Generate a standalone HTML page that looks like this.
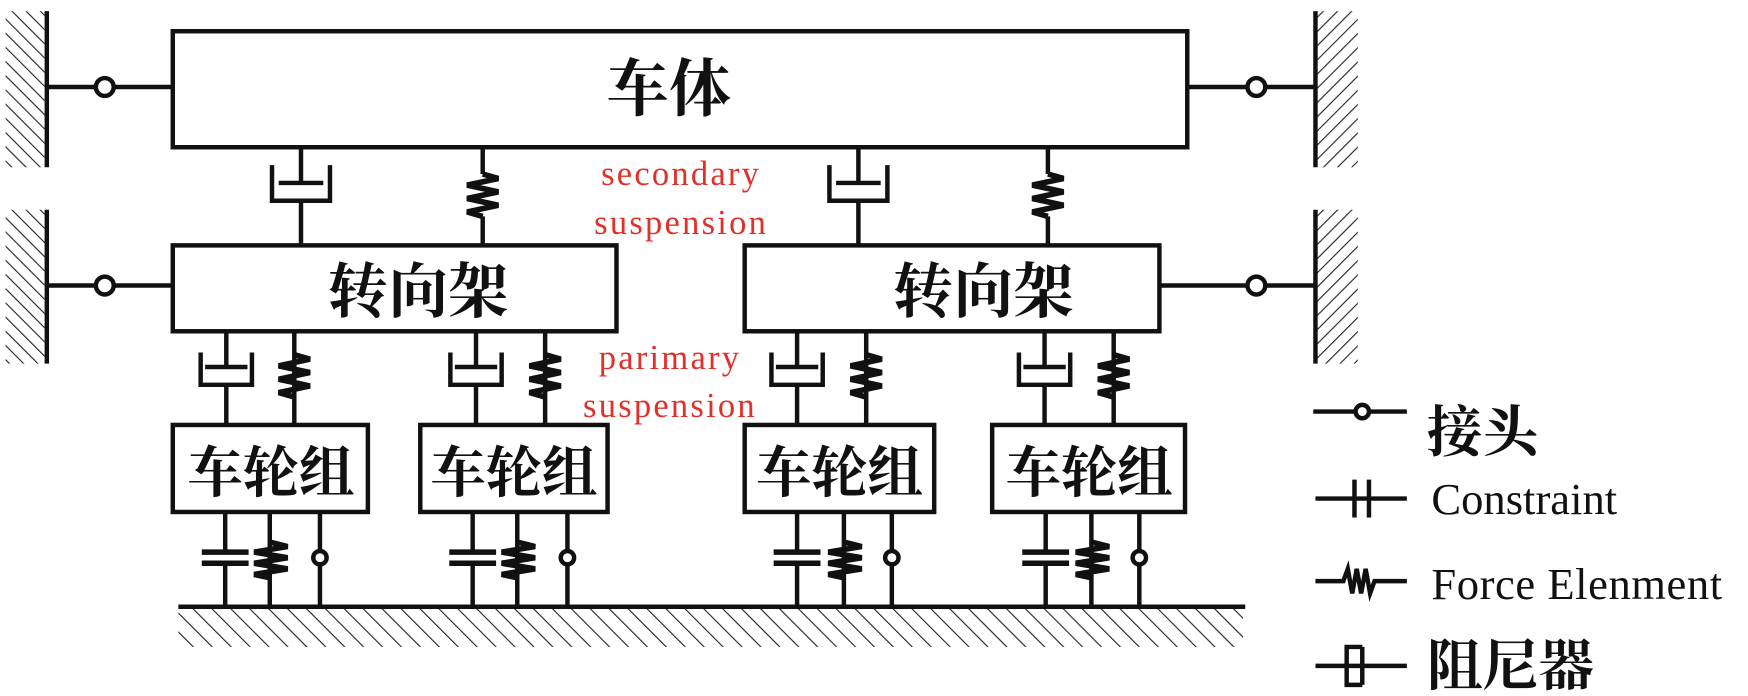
<!DOCTYPE html>
<html><head><meta charset="utf-8"><style>
html,body{margin:0;padding:0;background:#fff;}
svg{display:block;}
</style></head><body>
<svg width="1748" height="696" viewBox="0 0 1568 624" preserveAspectRatio="none" xmlns="http://www.w3.org/2000/svg">
<defs>
<pattern id="hl" patternUnits="userSpaceOnUse" width="9" height="9" patternTransform="rotate(-45)">
<line x1="0" y1="0" x2="0" y2="9" stroke="#222" stroke-width="2"/>
</pattern>
<pattern id="hr" patternUnits="userSpaceOnUse" width="9" height="9" patternTransform="rotate(45)">
<line x1="0" y1="0" x2="0" y2="9" stroke="#222" stroke-width="2"/>
</pattern>
<pattern id="hg" patternUnits="userSpaceOnUse" width="12" height="12" patternTransform="rotate(-45)">
<line x1="0" y1="0" x2="0" y2="12" stroke="#222" stroke-width="2"/>
</pattern>
<g id="sdamp" fill="none" stroke="#111" stroke-width="4">
<path d="M-26,-12 V20 H26 V-12"/><path d="M-20,4 H20"/>
</g>
<g id="pdamp" fill="none" stroke="#111" stroke-width="4">
<path d="M-23,-13 V16 H23 V-13"/><path d="M-19,0 H19"/>
</g>
<path id="spr" d="M0,0 L14,4 L-14,10 L14,16 L-14,22 L14,28 L-14,34 L0,38" fill="none" stroke="#111" stroke-width="5"/>
<path id="spr2" d="M0,0 L16,4 L-14,9 L16,14 L-14,19 L16,24 L-14,29 L0,32" fill="none" stroke="#111" stroke-width="5"/>
</defs>
<g stroke="#111" stroke-width="4" fill="none">
<rect x="5" y="10" width="35" height="140" fill="url(#hl)" stroke="none"/>
<rect x="5" y="188" width="35" height="138" fill="url(#hl)" stroke="none"/>
<rect x="1180" y="10" width="38" height="140" fill="url(#hr)" stroke="none"/>
<rect x="1180" y="188" width="38" height="138" fill="url(#hr)" stroke="none"/>
<line x1="42" y1="10" x2="42" y2="150"/>
<line x1="42" y1="188" x2="42" y2="326"/>
<line x1="1180" y1="10" x2="1180" y2="150"/>
<line x1="1180" y1="188" x2="1180" y2="326"/>
<line x1="42" y1="78" x2="155" y2="78"/><ellipse cx="94" cy="78" rx="8" ry="8" fill="#fff"/>
<line x1="42" y1="256" x2="155" y2="256"/><ellipse cx="94" cy="256" rx="8" ry="8" fill="#fff"/>
<line x1="1065" y1="78" x2="1180" y2="78"/><ellipse cx="1127" cy="78" rx="8" ry="8" fill="#fff"/>
<line x1="1040" y1="256" x2="1180" y2="256"/><ellipse cx="1127" cy="256" rx="8" ry="8" fill="#fff"/>
<rect x="155" y="28" width="910" height="104"/>
<rect x="155" y="220" width="398" height="77"/>
<rect x="668" y="220" width="372" height="77"/>
<rect x="155" y="381" width="175" height="78"/>
<rect x="377" y="381" width="168" height="78"/>
<rect x="668" y="381" width="170" height="78"/>
<rect x="890" y="381" width="173" height="78"/>
<line x1="270" y1="132" x2="270" y2="164"/><line x1="270" y1="180" x2="270" y2="220"/>
<use href="#sdamp" x="270" y="160"/>
<line x1="770" y1="132" x2="770" y2="164"/><line x1="770" y1="180" x2="770" y2="220"/>
<use href="#sdamp" x="770" y="160"/>
<line x1="433" y1="132" x2="433" y2="220"/>
<line x1="940" y1="132" x2="940" y2="220"/>
<line x1="203" y1="297" x2="203" y2="329"/><line x1="203" y1="345" x2="203" y2="381"/>
<line x1="427" y1="297" x2="427" y2="329"/><line x1="427" y1="345" x2="427" y2="381"/>
<line x1="715" y1="297" x2="715" y2="329"/><line x1="715" y1="345" x2="715" y2="381"/>
<line x1="937" y1="297" x2="937" y2="329"/><line x1="937" y1="345" x2="937" y2="381"/>
<line x1="264" y1="297" x2="264" y2="381"/>
<line x1="489" y1="297" x2="489" y2="381"/>
<line x1="777" y1="297" x2="777" y2="381"/>
<line x1="999" y1="297" x2="999" y2="381"/>
<g>
<line x1="202" y1="459" x2="202" y2="495"/><line x1="202" y1="505" x2="202" y2="543"/>
<line x1="242" y1="459" x2="242" y2="543"/>
<line x1="287" y1="459" x2="287" y2="543"/>
<line x1="424" y1="459" x2="424" y2="495"/><line x1="424" y1="505" x2="424" y2="543"/>
<line x1="464" y1="459" x2="464" y2="543"/>
<line x1="509" y1="459" x2="509" y2="543"/>
<line x1="715" y1="459" x2="715" y2="495"/><line x1="715" y1="505" x2="715" y2="543"/>
<line x1="757" y1="459" x2="757" y2="543"/>
<line x1="800" y1="459" x2="800" y2="543"/>
<line x1="938" y1="459" x2="938" y2="495"/><line x1="938" y1="505" x2="938" y2="543"/>
<line x1="979" y1="459" x2="979" y2="543"/>
<line x1="1022" y1="459" x2="1022" y2="543"/>
</g>
<g stroke-width="5">
<path d="M181,495 H223 M181,505 H223"/>
<path d="M403,495 H445 M403,505 H445"/>
<path d="M694,495 H736 M694,505 H736"/>
<path d="M917,495 H959 M917,505 H959"/>
</g>
<g fill="#fff">
<circle cx="287" cy="500" r="6"/><circle cx="509" cy="500" r="6"/>
<circle cx="800" cy="500" r="6"/><circle cx="1022" cy="500" r="6"/>
</g>
<rect x="160" y="546" width="955" height="34" fill="url(#hg)" stroke="none"/>
<line x1="160" y1="544" x2="1117" y2="544"/>
</g>
<g>
<rect x="428" y="156" width="10" height="38" fill="#fff"/><use href="#spr" x="433" y="156"/>
<rect x="935" y="156" width="10" height="38" fill="#fff"/><use href="#spr" x="940" y="156"/>
<use href="#spr" x="264" y="318"/><use href="#spr" x="489" y="318"/>
<use href="#spr" x="777" y="318"/><use href="#spr" x="999" y="318"/>
<use href="#spr2" x="242" y="486"/><use href="#spr2" x="464" y="486"/>
<use href="#spr2" x="757" y="486"/><use href="#spr2" x="979" y="486"/>
</g>
<use href="#pdamp" x="203" y="329"/><use href="#pdamp" x="427" y="329"/>
<use href="#pdamp" x="715" y="329"/><use href="#pdamp" x="937" y="329"/>
<g font-family="'Liberation Serif','Noto Serif CJK SC',serif" fill="#111" text-anchor="middle" font-weight="bold">
<text x="600" y="99" font-size="56">车体</text>
<text x="375" y="280" font-size="54">转向架</text>
<text x="882" y="280" font-size="54">转向架</text>
<text x="243" y="441" font-size="50">车轮组</text>
<text x="461" y="441" font-size="50">车轮组</text>
<text x="753" y="441" font-size="50">车轮组</text>
<text x="977" y="441" font-size="50">车轮组</text>
</g>
<g font-family="'Liberation Serif',serif" fill="#e0302a" font-size="31" text-anchor="middle" letter-spacing="2">
<text x="611" y="166">secondary</text>
<text x="611" y="210">suspension</text>
<text x="601" y="331">parimary</text>
<text x="601" y="374">suspension</text>
</g>
<g stroke="#111" stroke-width="4" fill="none">
<line x1="1178" y1="369" x2="1262" y2="369"/><circle cx="1222" cy="369" r="6" fill="#fff"/>
<line x1="1180" y1="447" x2="1262" y2="447"/>
<line x1="1215" y1="430" x2="1215" y2="464"/><line x1="1228" y1="430" x2="1228" y2="464"/>
<path d="M1180,521 H1205 L1209,510 L1213,532 L1217,510 L1221,532 L1225,510 L1229,532 L1233,521 H1262"/>
<line x1="1180" y1="597" x2="1262" y2="597"/>
<path d="M1222,580 H1208 V614 H1222 M1222,580 V614"/>
</g>
<g font-family="'Liberation Serif','Noto Serif CJK SC',serif" fill="#111">
<text x="1280" y="405" font-size="50" font-weight="bold">接头</text>
<text x="1284" y="461" font-size="40">Constraint</text>
<text x="1284" y="537" font-size="40" letter-spacing="0.5">Force Elenment</text>
<text x="1280" y="614" font-size="50" font-weight="bold">阻尼器</text>
</g>
</svg>
</body></html>
